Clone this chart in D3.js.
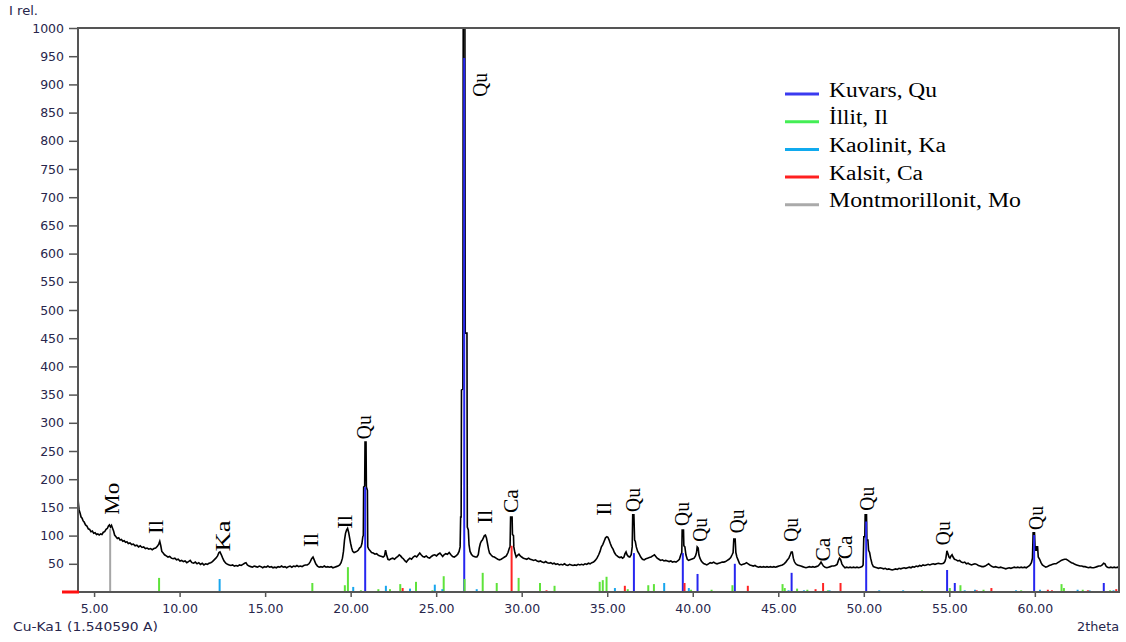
<!DOCTYPE html>
<html>
<head>
<meta charset="utf-8">
<script src="https://cdn.jsdelivr.net/npm/d3@7"></script>
<style>
  html, body { margin: 0; padding: 0; background: #fff; }
  svg { display: block; }
</style>
</head>
<body>
<svg id="chart" width="1126" height="642"></svg>
<script>
// Measured diffractogram: [2theta (deg), relative intensity]
const scan = [
  [4.06,167],[4.08,158],[4.12,146],[4.18,140],[4.24,133],[4.30,131],[4.36,126],[4.42,124],[4.50,119],[4.58,117],
  [4.66,112],[4.74,111],[4.82,107],[4.90,108],[4.98,104],[5.06,105],[5.14,102],[5.22,103],[5.30,101],[5.38,103],
  [5.46,102],[5.54,106],[5.62,107],[5.70,111],[5.78,113],[5.84,117],[5.90,119],[5.96,115],[6.02,118],[6.08,113],
  [6.14,108],[6.20,101],[6.28,98],[6.36,95],[6.44,96],[6.52,92],[6.60,93],[6.68,90],[6.76,91],[6.84,88],
  [6.92,89],[7.00,86],[7.10,87],[7.20,84],[7.30,85],[7.40,82],[7.50,83],[7.60,80],[7.70,82],[7.80,79],
  [7.90,80],[8.00,77],[8.10,78],[8.20,76],[8.30,77],[8.40,75],[8.50,77],[8.60,78],[8.70,81],[8.78,85],
  [8.84,90],[8.90,82],[8.96,72],[9.04,69],[9.12,66],[9.22,64],[9.32,62],[9.42,63],[9.52,60],[9.62,59],
  [9.72,60],[9.82,57],[9.92,58],[10.02,55],[10.12,56],[10.22,54],[10.32,55],[10.42,52],[10.52,54],[10.62,56],
  [10.72,52],[10.82,51],[10.92,53],[11.02,50],[11.12,52],[11.22,49],[11.32,51],[11.42,48],[11.52,50],[11.62,49],
  [11.72,51],[11.82,52],[11.92,54],[12.02,57],[12.12,60],[12.22,64],[12.30,70],[12.36,71],[12.44,66],[12.52,60],
  [12.60,55],[12.70,51],[12.80,49],[12.90,48],[13.00,47],[13.10,48],[13.20,46],[13.30,47],[13.40,46],[13.50,48],
  [13.60,47],[13.70,49],[13.80,51],[13.88,52],[13.96,48],[14.06,46],[14.16,45],[14.26,44],[14.36,46],[14.46,45],
  [14.56,44],[14.66,46],[14.76,45],[14.86,43],[14.96,45],[15.06,44],[15.16,46],[15.26,44],[15.36,45],[15.46,43],
  [15.56,44],[15.66,43],[15.76,45],[15.86,44],[15.96,46],[16.06,44],[16.16,45],[16.26,43],[16.36,45],[16.46,46],
  [16.56,44],[16.66,46],[16.76,45],[16.86,47],[16.96,45],[17.06,46],[17.16,45],[17.26,47],[17.36,48],[17.46,48],
  [17.56,50],[17.64,54],[17.72,59],[17.80,62],[17.88,56],[17.96,50],[18.06,46],[18.16,44],[18.26,45],[18.36,44],
  [18.46,46],[18.56,44],[18.66,45],[18.76,44],[18.86,45],[18.96,43],[19.06,44],[19.16,45],[19.26,46],[19.36,48],
  [19.44,52],[19.52,60],[19.58,72],[19.64,92],[19.70,104],[19.76,110],[19.82,113],[19.88,106],[19.94,96],[20.00,86],
  [20.06,78],[20.12,72],[20.20,70],[20.28,71],[20.36,72],[20.44,74],[20.52,78],[20.60,80],[20.66,86],[20.71,98],
  [20.74,100],[20.76,186],[20.82,188],[20.84,266],[20.90,266],[20.92,186],[20.98,180],[21.00,80],[21.06,76],[21.14,73],
  [21.22,70],[21.32,69],[21.42,67],[21.52,68],[21.62,65],[21.72,64],[21.82,63],[21.90,62],[21.98,64],[22.04,74],
  [22.10,66],[22.18,58],[22.26,57],[22.36,59],[22.46,60],[22.56,58],[22.66,61],[22.76,63],[22.84,66],[22.92,64],
  [23.00,61],[23.08,59],[23.18,55],[23.26,53],[23.36,57],[23.46,60],[23.56,58],[23.66,62],[23.76,64],[23.86,62],
  [23.96,66],[24.04,69],[24.12,66],[24.22,63],[24.32,62],[24.42,64],[24.52,61],[24.62,60],[24.72,63],[24.82,65],
  [24.92,66],[25.02,64],[25.12,67],[25.22,69],[25.30,66],[25.38,63],[25.46,66],[25.56,68],[25.66,67],[25.76,70],
  [25.86,66],[25.96,63],[26.06,62],[26.16,64],[26.26,67],[26.34,72],[26.40,80],[26.43,133],[26.46,133],[26.48,358],
  [26.56,360],[26.58,1000],[26.68,1000],[26.70,459],[26.80,459],[26.82,115],[26.88,110],[26.92,84],[26.98,72],[27.06,67],
  [27.14,64],[27.22,63],[27.30,62],[27.38,62],[27.46,66],[27.52,78],[27.58,86],[27.64,90],[27.70,92],[27.76,96],
  [27.82,100],[27.88,101],[27.94,96],[28.00,86],[28.06,76],[28.12,69],[28.20,66],[28.30,63],[28.40,62],[28.50,60],
  [28.60,58],[28.70,57],[28.80,58],[28.90,60],[29.00,62],[29.10,64],[29.20,70],[29.28,78],[29.32,80],[29.35,133],
  [29.44,133],[29.46,102],[29.52,100],[29.54,80],[29.60,70],[29.68,62],[29.76,65],[29.84,67],[29.92,64],[30.00,62],
  [30.10,60],[30.20,59],[30.30,58],[30.40,60],[30.50,58],[30.60,57],[30.70,56],[30.80,57],[30.90,55],[31.00,54],
  [31.10,55],[31.20,53],[31.30,52],[31.40,54],[31.50,52],[31.60,51],[31.70,52],[31.80,50],[31.90,51],[32.00,49],
  [32.10,50],[32.20,48],[32.30,49],[32.40,48],[32.50,50],[32.60,48],[32.70,47],[32.80,49],[32.90,48],[33.00,47],
  [33.10,48],[33.20,47],[33.30,49],[33.40,48],[33.50,49],[33.60,48],[33.70,50],[33.80,49],[33.90,51],[34.00,50],
  [34.10,52],[34.20,53],[34.30,56],[34.40,60],[34.50,66],[34.58,72],[34.66,80],[34.74,84],[34.82,90],[34.90,96],
  [34.98,98],[35.04,97],[35.10,93],[35.18,86],[35.26,80],[35.34,76],[35.42,70],[35.50,66],[35.58,64],[35.66,62],
  [35.74,61],[35.82,62],[35.90,60],[35.98,62],[36.04,68],[36.10,71],[36.16,66],[36.24,63],[36.32,62],[36.40,66],
  [36.46,80],[36.49,137],[36.56,137],[36.60,92],[36.64,90],[36.70,80],[36.78,72],[36.86,68],[36.96,62],[37.06,58],
  [37.16,57],[37.26,59],[37.36,60],[37.46,61],[37.56,62],[37.66,64],[37.76,66],[37.84,63],[37.92,60],[38.02,58],
  [38.12,56],[38.22,57],[38.32,55],[38.42,56],[38.52,55],[38.62,54],[38.72,55],[38.82,53],[38.92,54],[39.02,53],
  [39.12,55],[39.22,58],[39.30,66],[39.36,70],[39.38,110],[39.46,110],[39.48,82],[39.54,80],[39.60,66],[39.68,58],
  [39.76,56],[39.84,57],[39.92,58],[40.00,59],[40.08,60],[40.16,64],[40.22,70],[40.26,80],[40.32,78],[40.36,66],
  [40.42,60],[40.50,55],[40.58,52],[40.66,50],[40.74,49],[40.82,48],[40.92,50],[41.02,52],[41.12,51],[41.22,53],
  [41.32,51],[41.42,50],[41.52,51],[41.62,52],[41.72,53],[41.82,53],[41.92,54],[42.02,56],[42.12,58],[42.22,61],
  [42.30,66],[42.36,70],[42.40,94],[42.48,94],[42.52,70],[42.58,62],[42.66,56],[42.74,50],[42.84,48],[42.94,49],
  [43.04,50],[43.14,52],[43.24,50],[43.34,48],[43.44,47],[43.54,46],[43.64,47],[43.74,45],[43.84,44],[43.94,45],
  [44.04,44],[44.14,45],[44.24,44],[44.34,45],[44.44,44],[44.54,45],[44.64,44],[44.74,45],[44.84,44],[44.94,45],
  [45.04,46],[45.14,47],[45.24,48],[45.34,50],[45.44,53],[45.54,57],[45.62,60],[45.70,66],[45.76,71],[45.82,71],
  [45.88,60],[45.94,54],[46.02,50],[46.12,48],[46.22,47],[46.32,46],[46.42,45],[46.52,44],[46.62,43],[46.72,44],
  [46.82,45],[46.92,44],[47.02,45],[47.12,44],[47.22,45],[47.32,46],[47.42,49],[47.50,53],[47.56,50],[47.64,46],
  [47.74,44],[47.84,43],[47.94,44],[48.04,45],[48.14,46],[48.24,46],[48.34,47],[48.44,49],[48.52,56],[48.58,60],
  [48.64,58],[48.72,50],[48.80,46],[48.90,43],[49.00,44],[49.10,43],[49.20,44],[49.30,43],[49.40,44],[49.50,43],
  [49.60,44],[49.70,43],[49.80,44],[49.90,45],[49.96,48],[50.00,98],[50.06,98],[50.08,137],[50.16,137],[50.18,92],
  [50.24,92],[50.28,74],[50.34,70],[50.40,60],[50.48,50],[50.56,45],[50.66,44],[50.76,43],[50.86,42],[50.96,43],
  [51.06,42],[51.16,41],[51.26,42],[51.36,40],[51.46,41],[51.56,40],[51.66,39],[51.76,40],[51.86,41],[51.96,40],
  [52.06,42],[52.16,41],[52.26,42],[52.36,43],[52.46,42],[52.56,43],[52.66,44],[52.76,43],[52.86,45],[52.96,44],
  [53.06,46],[53.16,45],[53.26,47],[53.36,46],[53.46,48],[53.56,47],[53.66,48],[53.76,49],[53.86,48],[53.96,49],
  [54.06,50],[54.16,49],[54.26,50],[54.36,51],[54.46,50],[54.56,50],[54.66,51],[54.74,54],[54.80,60],[54.86,73],
  [54.92,68],[54.98,62],[55.04,60],[55.10,64],[55.16,66],[55.22,62],[55.30,58],[55.40,57],[55.50,55],[55.60,56],
  [55.70,53],[55.80,52],[55.90,53],[56.00,50],[56.10,51],[56.20,49],[56.30,48],[56.40,49],[56.50,50],[56.60,49],
  [56.70,47],[56.80,46],[56.90,45],[57.00,45],[57.10,46],[57.20,48],[57.30,50],[57.40,47],[57.50,45],[57.60,44],
  [57.70,45],[57.80,44],[57.90,43],[58.00,44],[58.10,43],[58.20,42],[58.30,41],[58.40,42],[58.50,43],[58.60,42],
  [58.70,43],[58.80,44],[58.90,43],[59.00,44],[59.10,43],[59.20,44],[59.30,43],[59.40,44],[59.50,43],[59.60,45],
  [59.70,47],[59.80,52],[59.86,60],[59.90,105],[59.98,105],[60.02,74],[60.08,74],[60.10,80],[60.16,80],[60.20,62],
  [60.28,58],[60.36,52],[60.44,48],[60.54,46],[60.64,44],[60.74,45],[60.84,47],[60.94,48],[61.04,49],[61.14,50],
  [61.24,50],[61.34,52],[61.44,54],[61.54,56],[61.64,57],[61.74,58],[61.84,58],[61.94,56],[62.04,54],[62.14,52],
  [62.24,51],[62.34,49],[62.44,48],[62.54,47],[62.64,46],[62.74,46],[62.84,45],[62.94,45],[63.04,44],[63.14,43],
  [63.24,44],[63.34,43],[63.44,43],[63.54,44],[63.64,45],[63.74,46],[63.84,46],[63.94,48],[64.02,51],[64.10,50],
  [64.16,46],[64.24,44],[64.34,43],[64.44,44],[64.54,43],[64.64,44],[64.74,43],[64.84,44],[64.92,43]
];

// Reference pattern lines for each identified phase: [2theta, intensity]
const quartzLines = [
  [20.85,186],[26.64,947],[36.56,69],[39.42,69],[40.28,32],[42.46,50],[45.78,34],[50.14,125],
  [54.87,39],[55.32,16],[59.96,101],[64.03,16]
];
const illiteLines = [
  [8.80,25],[17.76,16],[19.66,12],[19.84,44],[20.60,3],[21.62,5],[22.30,5],[22.90,14],[23.82,18],
  [24.78,3],[25.44,28],[26.66,23],[27.72,34],[28.54,16],[29.82,25],[31.07,16],[31.92,11],[34.56,18],
  [34.74,21],[34.96,27],[36.20,5],[37.40,12],[37.73,14],[39.90,4],[41.10,4],[42.32,12],[45.25,14],
  [45.38,7],[46.10,6],[46.70,4],[47.90,3],[53.40,3],[55.03,7],[55.65,12],[57.00,4],[59.20,3],
  [61.56,14],[61.70,7],[62.80,4],[64.40,3]
];
const kaoliniteLines = [
  [12.34,23],[20.15,9],[22.06,11],[23.47,6],[24.92,13],[25.36,5],[27.37,5],[35.45,7],[38.33,16],
  [39.77,7],[45.60,3],[46.50,3],[48.00,3],[50.90,3],[52.30,3],[55.90,3],[56.50,4],[58.90,3],
  [60.30,4],[62.50,4],[63.20,3],[64.60,3]
];
const calciteLines = [
  [23.04,7],[29.41,82],[31.45,3],[36.03,11],[39.52,16],[43.22,11],[47.18,5],[47.62,16],[48.64,16],
  [56.60,3],[57.46,7],[60.76,4],[61.00,3],[63.10,3],[64.76,5]
];
const montmorilloniteLines = [[5.94,112]];

// Peak labels: phase abbreviation, 2theta of the label and intensity level at its lower end
const peakLabels = [
  {text: "Mo", at: 6.02,  level: 137},
  {text: "Il", at: 8.61,  level: 103},
  {text: "Ka", at: 12.54, level: 72},
  {text: "Il", at: 17.71, level: 80},
  {text: "Il", at: 19.68, level: 112},
  {text: "Qu", at: 20.80, level: 271},
  {text: "Qu", at: 27.55, level: 878},
  {text: "Il", at: 27.83, level: 121},
  {text: "Ca", at: 29.36, level: 140},
  {text: "Il", at: 34.82, level: 135},
  {text: "Qu", at: 36.52, level: 142},
  {text: "Qu", at: 39.36, level: 117},
  {text: "Qu", at: 40.42, level: 89},
  {text: "Qu", at: 42.58, level: 104},
  {text: "Qu", at: 45.75, level: 89},
  {text: "Ca", at: 47.62, level: 54},
  {text: "Ca", at: 48.89, level: 58},
  {text: "Qu", at: 50.20, level: 144},
  {text: "Qu", at: 54.62, level: 83},
  {text: "Qu", at: 60.04, level: 110}
];

const legendNames = ["Kuvars, Qu", "İllit, Il", "Kaolinit, Ka", "Kalsit, Ca", "Montmorillonit, Mo"];
const yTickValues = [50,100,150,200,250,300,350,400,450,500,550,600,650,700,750,800,850,900,950,1000];
const xTickValues = [5,10,15,20,25,30,35,40,45,50,55,60];
const xDomain = [4.06, 64.92];
const yDomain = [0, 1000];

// ---- drawing ----
const phases = [
  {lines: quartzLines,          color: "#2626f0", legend: "#3a3af0"},
  {lines: illiteLines,          color: "#5ee33a", legend: "#44ee55"},
  {lines: kaoliniteLines,       color: "#18a6ee", legend: "#10aaee"},
  {lines: calciteLines,         color: "#ff2424", legend: "#ff2020"},
  {lines: montmorilloniteLines, color: "#a6a6a6", legend: "#aaaaaa"}
];

const svg = d3.select("#chart");
const plotLeft = 78, plotRight = 1119, plotTop = 28, plotBottom = 592;
const x = d3.scaleLinear().domain(xDomain).range([plotLeft, plotRight]);
const y = d3.scaleLinear().domain(yDomain).range([plotBottom, plotTop]);
const tickFont = "DejaVu Sans, Verdana, sans-serif";
const serif = "'Liberation Serif', 'Times New Roman', serif";
const textColor = "#28264c";
const frameColor = "#555";

svg.append("defs").append("clipPath").attr("id", "plot-clip")
  .append("rect").attr("x", plotLeft).attr("y", plotTop)
  .attr("width", plotRight - plotLeft).attr("height", plotBottom - plotTop);

// y axis
const yAxis = svg.append("g").attr("transform", `translate(${plotLeft},0)`)
  .call(d3.axisLeft(y).tickValues(yTickValues).tickSize(9).tickPadding(5).tickSizeOuter(0).tickFormat(d3.format("d")));
yAxis.select(".domain").remove();
yAxis.selectAll("line").attr("stroke", frameColor).attr("stroke-width", 1.5);
yAxis.selectAll("text").attr("fill", textColor).style("font-family", tickFont).style("font-size", "12.5px");

// x axis
const xAxis = svg.append("g").attr("transform", `translate(0,${plotBottom})`)
  .call(d3.axisBottom(x).tickValues(xTickValues).tickSize(5).tickPadding(7).tickSizeOuter(0).tickFormat(d3.format(".2f")));
xAxis.select(".domain").remove();
xAxis.selectAll("line").attr("stroke", frameColor).attr("stroke-width", 1.5);
xAxis.selectAll("text").attr("fill", textColor).style("font-family", tickFont).style("font-size", "12.5px");

// measured pattern
svg.append("path")
  .datum(scan)
  .attr("clip-path", "url(#plot-clip)")
  .attr("fill", "none")
  .attr("stroke", "#000")
  .attr("stroke-width", 1.6)
  .attr("stroke-linejoin", "miter")
  .attr("d", d3.line().x(d => x(d[0])).y(d => y(d[1])));

// reference sticks
phases.forEach(p => {
  svg.append("g").selectAll("line").data(p.lines).join("line")
    .attr("x1", d => x(d[0])).attr("x2", d => x(d[0]))
    .attr("y1", y(0)).attr("y2", d => y(d[1]))
    .attr("stroke", p.color).attr("stroke-width", 2);
});

// frame
svg.append("rect")
  .attr("x", plotLeft).attr("y", plotTop)
  .attr("width", plotRight - plotLeft).attr("height", plotBottom - plotTop)
  .attr("fill", "none").attr("stroke", frameColor).attr("stroke-width", 2);
svg.append("line")
  .attr("x1", 62).attr("x2", plotLeft + 1).attr("y1", plotBottom).attr("y2", plotBottom)
  .attr("stroke", "#ff1010").attr("stroke-width", 3);

// peak labels, rotated
const labelLength = {Mo: 32, Il: 14, Ka: 31, Qu: 24, Ca: 24};
svg.append("g").selectAll("text").data(peakLabels).join("text")
  .attr("transform", d => `translate(${x(d.at)},${y(d.level)}) rotate(-90)`)
  .attr("dominant-baseline", "central")
  .attr("text-anchor", "start")
  .attr("textLength", d => labelLength[d.text])
  .attr("lengthAdjust", "spacingAndGlyphs")
  .style("font-family", serif)
  .style("font-size", "20px")
  .attr("fill", "#000")
  .text(d => d.text);

// legend
const legendWidths = [108, 59, 117, 94, 192];
const legend = svg.append("g").attr("transform", "translate(785,94)");
phases.forEach((p, i) => {
  const row = legend.append("g").attr("transform", `translate(0,${i * 27.7})`);
  row.append("line").attr("x1", 0).attr("x2", 34).attr("y1", 0).attr("y2", 0)
    .attr("stroke", p.legend).attr("stroke-width", 3);
  row.append("text").attr("x", 44).attr("y", 2.5)
    .attr("textLength", legendWidths[i]).attr("lengthAdjust", "spacingAndGlyphs")
    .style("font-family", serif).style("font-size", "20px").attr("fill", "#000")
    .text(legendNames[i]);
});

// axis captions
svg.append("text").attr("x", 9).attr("y", 15).attr("textLength", 29).attr("lengthAdjust", "spacingAndGlyphs")
  .style("font-family", tickFont).style("font-size", "11.5px").attr("fill", textColor).text("I rel.");
svg.append("text").attr("x", 13).attr("y", 631).attr("textLength", 145).attr("lengthAdjust", "spacingAndGlyphs")
  .style("font-family", tickFont).style("font-size", "12px").attr("fill", textColor).text("Cu-Ka1 (1.540590 A)");
svg.append("text").attr("x", 1077).attr("y", 631).attr("textLength", 42).attr("lengthAdjust", "spacingAndGlyphs")
  .style("font-family", tickFont).style("font-size", "12px").attr("fill", textColor).text("2theta");
</script>
</body>
</html>
